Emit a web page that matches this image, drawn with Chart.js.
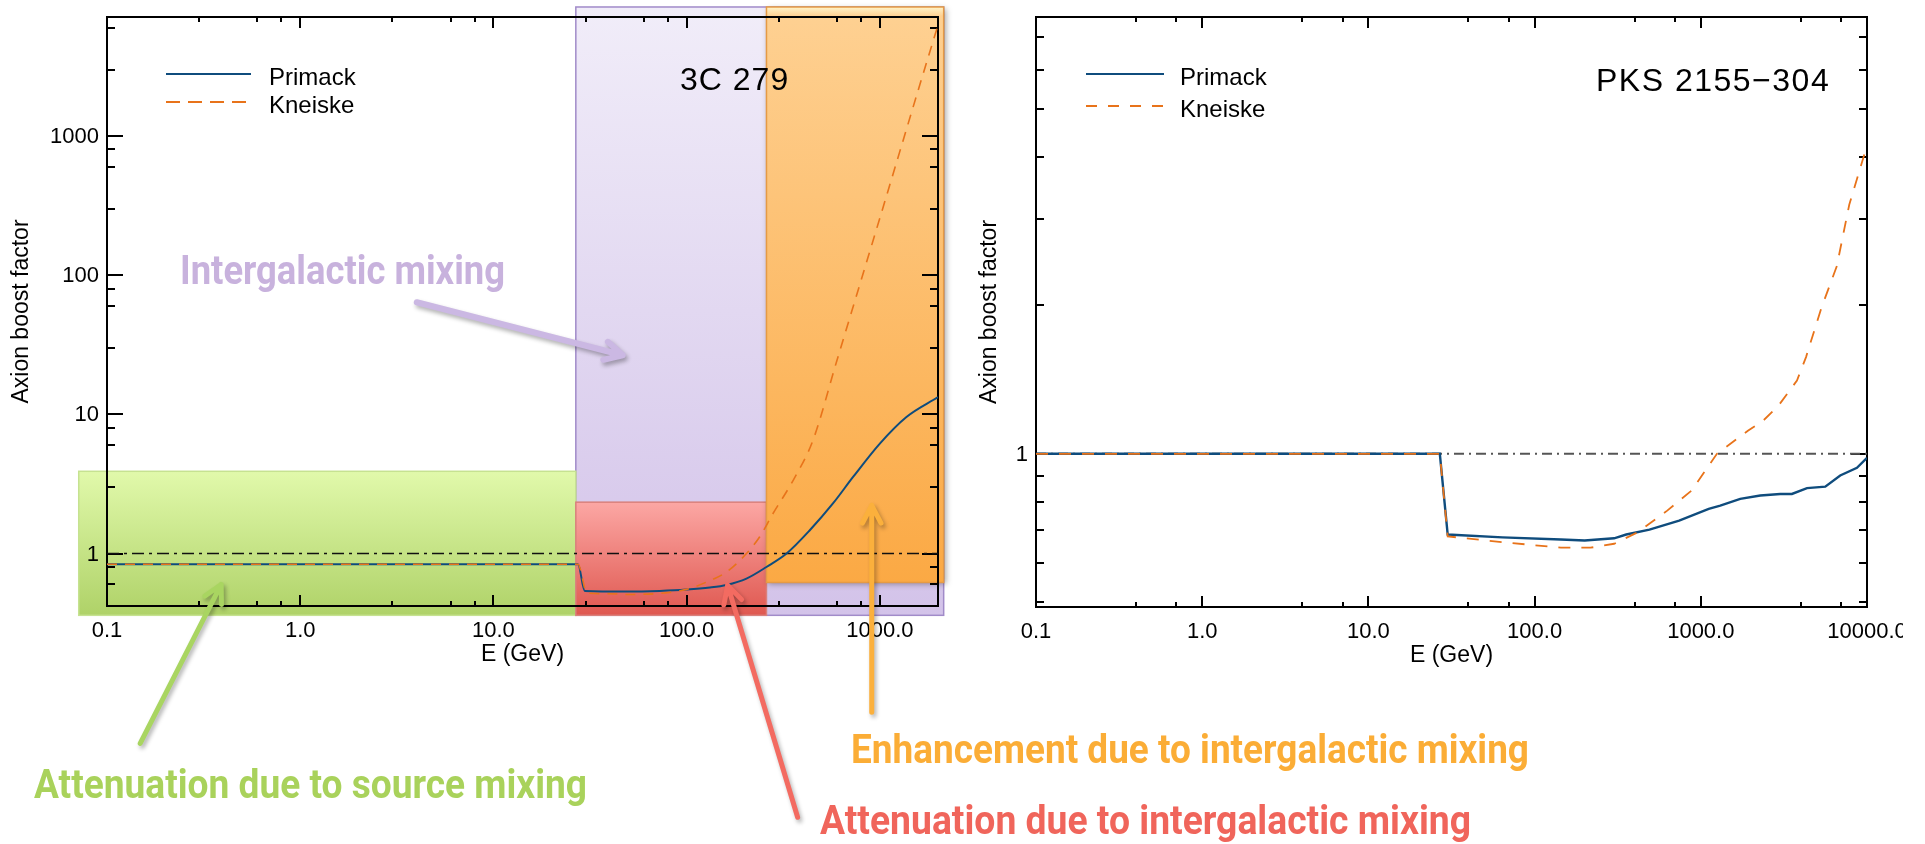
<!DOCTYPE html>
<html>
<head>
<meta charset="utf-8">
<script src="https://cdn.jsdelivr.net/npm/chart.js@4.4.1/dist/chart.umd.min.js"></script>
<style>
  html, body { margin: 0; padding: 0; background: #fff; width: 1925px; height: 844px; overflow: hidden; }
  #page { position: relative; width: 1925px; height: 844px; overflow: hidden; background: #fff; }
  #leftBox { position: absolute; left: 0; top: 0; width: 960px; height: 844px; }
  #rightBox { position: absolute; left: 960px; top: 0; width: 943px; height: 844px; }
  #notes { position: absolute; left: 0; top: 0; pointer-events: none; }
  #notes text { font-family: Roboto, "Open Sans", "DejaVu Sans", sans-serif; font-weight: 700; font-size: 40px; }
</style>
</head>
<body>
<div id="page">
  <div id="leftBox"><canvas id="leftChart"></canvas></div>
  <div id="rightBox"><canvas id="rightChart"></canvas></div>
  <svg id="notes" width="1925" height="844" xmlns="http://www.w3.org/2000/svg">
    <text x="180" y="284" textLength="325" lengthAdjust="spacingAndGlyphs" fill="#c8b2dd">Intergalactic mixing</text>
    <text x="34" y="798" textLength="553" lengthAdjust="spacingAndGlyphs" fill="#a9d25b">Attenuation due to source mixing</text>
    <text x="851" y="763" textLength="678" lengthAdjust="spacingAndGlyphs" fill="#fbad36">Enhancement due to intergalactic mixing</text>
    <text x="820" y="834" textLength="651" lengthAdjust="spacingAndGlyphs" fill="#f0655b">Attenuation due to intergalactic mixing</text>
  </svg>
</div>
<script>
// ---------- 3C 279: axion boost factor vs photon energy ----------
const leftPrimackE     = [0.1, 27.4, 29.7, 48.8, 72.6, 100, 132, 161, 204, 259, 329, 434, 572, 727, 1000, 1373, 2000];
const leftPrimackBoost = [0.838, 0.838, 0.539, 0.533, 0.539, 0.551, 0.570, 0.595, 0.661, 0.801, 1.0, 1.47, 2.29, 3.55, 6.17, 9.58, 13.3];
const leftKneiskeE     = [0.1, 27.4, 30.5, 40, 50, 73, 100, 127, 161, 204, 239, 280, 356, 451, 598, 787, 1000, 1268, 1609, 2000];
const leftKneiskeBoost = [0.838, 0.838, 0.52, 0.514, 0.508, 0.518, 0.553, 0.625, 0.738, 1.0, 1.32, 1.94, 3.36, 6.53, 24.1, 85.3, 257, 772, 2325, 6270];
const leftUnityE       = [0.1, 2000];
const leftUnityBoost   = [1, 1];

// ---------- PKS 2155-304 ----------
const rightPrimackE     = [0.1, 26.9, 30, 64, 144, 200, 301, 356, 491, 741, 1116, 1309, 1727, 2280, 3007, 3533, 4355, 5610, 6900, 8700, 10000];
const rightPrimackBoost = [1, 1, 0.686, 0.677, 0.670, 0.667, 0.674, 0.686, 0.702, 0.732, 0.773, 0.785, 0.81, 0.823, 0.829, 0.829, 0.852, 0.858, 0.904, 0.937, 0.981];
const rightKneiskeE     = [0.1, 26.9, 30, 64, 144, 217, 301, 417, 628, 879, 1250, 1930, 2377, 2938, 3790, 4297, 5313, 6577, 7820, 10000];
const rightKneiskeBoost = [1, 1, 0.68, 0.662, 0.645, 0.645, 0.657, 0.693, 0.767, 0.842, 1.0, 1.115, 1.168, 1.253, 1.408, 1.571, 1.976, 2.4, 3.2, 4.22];
const rightUnityE       = [0.1, 10000];
const rightUnityBoost   = [1, 1];

// ---------- axes ----------
const leftXRange  = [0.1, 2000];
const leftYRange  = [0.42, 7160];
const rightXRange = [0.1, 10000];
const rightYRange = [0.489, 7.69];
const leftXMajor  = [0.1, 1, 10, 100, 1000];
const leftXLabels = ['0.1', '1.0', '10.0', '100.0', '1000.0'];
const leftYMajor  = [1, 10, 100, 1000];
const leftYLabels = ['1', '10', '100', '1000'];
const rightXMajor  = [0.1, 1, 10, 100, 1000, 10000];
const rightXLabels = ['0.1', '1.0', '10.0', '100.0', '1000.0', '10000.0'];
const rightYMajor  = [1];
const rightYLabels = ['1'];

// legend entries, top to bottom
const legendModels = ['Primack', 'Kneiske'];

// ---------- shaded regimes on the 3C 279 panel (energy / boost extents) ----------
// order: intergalactic mixing, source mixing, intergalactic attenuation, intergalactic enhancement
const bandEmin = [26.7, 0.0714, 26.7, 259];
const bandEmax = [2140, 26.7, 259, 2140];
const bandBmin = [0.36, 0.36, 0.36, 0.62];
const bandBmax = [8450, 3.9, 2.34, 8450];

// points the explanatory arrows aim at (energy, boost)
const arrowE = [46.7, 0.39, 163, 908];
const arrowB = [26.6, 0.60, 0.592, 2.22];

// ---------- styles ----------
const PRIMACK_COLOR = '#0f4c7d';
const KNEISKE_COLOR = '#e8731a';
const TICK_FONT = '22px "Liberation Sans", Arial, Helvetica, sans-serif';
const TITLE_FONT = '23px "Liberation Sans", Arial, Helvetica, sans-serif';
const LEGEND_FONT = '24px "Liberation Sans", Arial, Helvetica, sans-serif';
const NAME_FONT = '32px "Liberation Sans", Arial, Helvetica, sans-serif';

const bandStyles = [
  { top: '#f1edf9', bottom: '#d3c3e9', border: '#a18bc9' },
  { top: '#e1f9ab', bottom: '#afd268', border: '#c6e291' },
  { top: '#fca7a4', bottom: '#df5850', border: '#d9817c' },
  { top: '#fed193', bottom: '#fba944', border: '#e59a45', shadow: true, bevel: true }
];
const arrowStyles = [
  { color: '#cbb8e3', width: 6, dx: -206, dy: -53 },
  { color: '#a9d561', width: 5, dx: -81, dy: 159 },
  { color: '#f36b61', width: 5, dx: 70, dy: 232 },
  { color: '#fbb03c', width: 5, dx: 0, dy: 207 }
];

function pairs(xs, ys) { return xs.map((x, i) => ({ x: x, y: ys[i] })); }

// decade ticks with 2..9 minors, major flag on labelled values
function logTicks(min, max, majors) {
  const out = [];
  for (let e = Math.floor(Math.log10(min)); e <= Math.ceil(Math.log10(max)); e++) {
    for (let m = 1; m <= 9; m++) {
      const v = +(m * Math.pow(10, e)).toPrecision(6);
      if (v < min * 0.9999 || v > max * 1.0001) continue;
      out.push({ value: v, major: majors.includes(v) });
    }
  }
  return out;
}

function logAxis(range, majors, labels) {
  return {
    type: 'logarithmic',
    display: false,
    min: range[0],
    max: range[1],
    afterBuildTicks: (scale) => { scale.ticks = logTicks(range[0], range[1], majors); },
    ticks: { callback: (v) => { const i = majors.indexOf(v); return i >= 0 ? labels[i] : ''; } }
  };
}

// boxed frame: ticks point inwards on all four sides
function framePlugin(opt) {
  return {
    id: 'frame' + opt.key,
    beforeDatasetsDraw(chart) {
      const { ctx, chartArea: a } = chart;
      const xs = chart.scales.x, ys = chart.scales.y;
      ctx.save();
      ctx.strokeStyle = '#000';
      ctx.lineWidth = 2;
      ctx.strokeRect(a.left, a.top, a.right - a.left, a.bottom - a.top);
      ctx.beginPath();
      for (const t of xs.ticks) {
        const px = Math.round(xs.getPixelForValue(t.value));
        if (px < a.left - 1 || px > a.right + 1) continue;
        const len = t.major ? 11 : 5;
        ctx.moveTo(px, a.bottom); ctx.lineTo(px, a.bottom - len);
        ctx.moveTo(px, a.top); ctx.lineTo(px, a.top + len);
      }
      for (const t of ys.ticks) {
        const py = Math.round(ys.getPixelForValue(t.value));
        if (py < a.top - 1 || py > a.bottom + 1) continue;
        const len = t.major ? 16 : 8;
        ctx.moveTo(a.left, py); ctx.lineTo(a.left + len, py);
        ctx.moveTo(a.right, py); ctx.lineTo(a.right - len, py);
      }
      ctx.stroke();

      ctx.fillStyle = '#000';
      ctx.font = TICK_FONT;
      ctx.textAlign = 'center';
      ctx.textBaseline = 'alphabetic';
      for (const t of xs.ticks) {
        if (!t.major || !t.label) continue;
        ctx.fillText(t.label, xs.getPixelForValue(t.value), a.bottom + 31);
      }
      ctx.textAlign = 'right';
      ctx.textBaseline = 'middle';
      for (const t of ys.ticks) {
        if (!t.major || !t.label) continue;
        ctx.fillText(t.label, a.left - 8, ys.getPixelForValue(t.value) + 1);
      }

      ctx.font = TITLE_FONT;
      ctx.textAlign = 'center';
      ctx.textBaseline = 'alphabetic';
      ctx.fillText('E (GeV)', (a.left + a.right) / 2, a.bottom + 55);
      ctx.save();
      ctx.translate(opt.yTitleX, (a.top + a.bottom) / 2);
      ctx.rotate(-Math.PI / 2);
      ctx.textBaseline = 'middle';
      ctx.fillText('Axion boost factor', 0, 0);
      ctx.restore();
      ctx.restore();
    },
    afterDatasetsDraw(chart) {
      const { ctx, chartArea: a } = chart;
      ctx.save();
      // legend for the two EBL models
      legendModels.forEach((name, i) => {
        const d = chart.data.datasets.find(ds => ds.label === name);
        const ly = a.top + opt.legendY[i];
        ctx.strokeStyle = d.borderColor;
        ctx.lineWidth = 2;
        ctx.setLineDash(d.legendDash || []);
        ctx.beginPath();
        ctx.moveTo(a.left + opt.legendX[0], ly);
        ctx.lineTo(a.left + opt.legendX[1], ly);
        ctx.stroke();
        ctx.setLineDash([]);
        ctx.fillStyle = '#000';
        ctx.font = LEGEND_FONT;
        ctx.textAlign = 'left';
        ctx.textBaseline = 'alphabetic';
        ctx.fillText(d.label, a.left + opt.legendX[2], ly + 11);
      });
      // source name
      ctx.font = NAME_FONT;
      ctx.fillStyle = '#000';
      ctx.textAlign = 'left';
      ctx.textBaseline = 'alphabetic';
      try { ctx.letterSpacing = opt.nameSpacing; } catch (e) {}
      ctx.fillText(opt.name, a.left + opt.nameX, a.top + opt.nameY);
      ctx.restore();
    }
  };
}

// shaded regimes drawn under the frame and the curves, arrows on top
const bandPlugin = {
  id: 'bands',
  beforeDraw(chart) {
    const { ctx } = chart;
    const xs = chart.scales.x, ys = chart.scales.y;
    bandEmin.forEach((e0, i) => {
      const st = bandStyles[i];
      const x1 = xs.getPixelForValue(e0), x2 = xs.getPixelForValue(bandEmax[i]);
      const y1 = ys.getPixelForValue(bandBmax[i]), y2 = ys.getPixelForValue(bandBmin[i]);
      ctx.save();
      const g = ctx.createLinearGradient(0, y1, 0, y2);
      g.addColorStop(0, st.top);
      g.addColorStop(1, st.bottom);
      ctx.fillStyle = g;
      if (st.shadow) {
        ctx.shadowColor = 'rgba(0,0,0,0.35)';
        ctx.shadowBlur = 6;
        ctx.shadowOffsetX = 2;
        ctx.shadowOffsetY = 2;
      }
      ctx.fillRect(x1, y1, x2 - x1, y2 - y1);
      ctx.shadowColor = 'transparent';
      if (st.bevel) {
        const b = ctx.createLinearGradient(0, y1, 0, y1 + 9);
        b.addColorStop(0, 'rgba(255,246,205,0.95)');
        b.addColorStop(1, 'rgba(255,246,205,0)');
        ctx.fillStyle = b;
        ctx.fillRect(x1, y1, x2 - x1, 9);
      }
      ctx.strokeStyle = st.border;
      ctx.lineWidth = 1.5;
      ctx.strokeRect(x1, y1, x2 - x1, y2 - y1);
      ctx.restore();
    });
  },
  afterDraw(chart) {
    const { ctx } = chart;
    const xs = chart.scales.x, ys = chart.scales.y;
    arrowE.forEach((e, i) => {
      const st = arrowStyles[i];
      const hx = xs.getPixelForValue(e), hy = ys.getPixelForValue(arrowB[i]);
      const tx = hx + st.dx, ty = hy + st.dy;
      const ang = Math.atan2(hy - ty, hx - tx);
      const head = 20, spread = Math.PI / 6.5;
      ctx.save();
      ctx.strokeStyle = st.color;
      ctx.lineWidth = st.width;
      ctx.lineCap = 'round';
      ctx.lineJoin = 'round';
      ctx.shadowColor = 'rgba(0,0,0,0.3)';
      ctx.shadowBlur = 4;
      ctx.shadowOffsetX = 2;
      ctx.shadowOffsetY = 3;
      ctx.beginPath();
      ctx.moveTo(tx, ty);
      ctx.lineTo(hx, hy);
      ctx.moveTo(hx - head * Math.cos(ang - spread), hy - head * Math.sin(ang - spread));
      ctx.lineTo(hx, hy);
      ctx.lineTo(hx - head * Math.cos(ang + spread), hy - head * Math.sin(ang + spread));
      ctx.stroke();
      ctx.restore();
    });
  }
};

function baseOptions(padding, xAxis, yAxis) {
  return {
    responsive: true,
    maintainAspectRatio: false,
    animation: false,
    devicePixelRatio: 1,
    events: [],
    layout: { padding: padding },
    plugins: { legend: { display: false }, tooltip: { enabled: false } },
    elements: { point: { radius: 0 } },
    scales: { x: xAxis, y: yAxis }
  };
}

new Chart(document.getElementById('leftChart'), {
  type: 'line',
  data: {
    datasets: [
      { label: 'Kneiske', data: pairs(leftKneiskeE, leftKneiskeBoost), borderColor: KNEISKE_COLOR,
        borderWidth: 1.6, borderDash: [10, 8], legendDash: [14, 8], cubicInterpolationMode: 'monotone', order: 0 },
      { label: 'Primack', data: pairs(leftPrimackE, leftPrimackBoost), borderColor: PRIMACK_COLOR,
        borderWidth: 2, cubicInterpolationMode: 'monotone', order: 1 },
      { label: 'unity', data: pairs(leftUnityE, leftUnityBoost), borderColor: '#111',
        borderWidth: 1.5, borderDash: [12, 5, 3, 5], order: 2 }
    ]
  },
  options: baseOptions({ left: 107, top: 17, right: 22, bottom: 238 },
    logAxis(leftXRange, leftXMajor, leftXLabels), logAxis(leftYRange, leftYMajor, leftYLabels)),
  plugins: [bandPlugin, framePlugin({
    key: 'L', yTitleX: 22, legendX: [59, 144, 162], legendY: [57, 85],
    name: '3C 279', nameX: 573, nameY: 73, nameSpacing: '1px'
  })]
});

new Chart(document.getElementById('rightChart'), {
  type: 'line',
  data: {
    datasets: [
      { label: 'Kneiske', data: pairs(rightKneiskeE, rightKneiskeBoost), borderColor: KNEISKE_COLOR,
        borderWidth: 1.8, borderDash: [12, 11], legendDash: [11, 11], order: 0 },
      { label: 'Primack', data: pairs(rightPrimackE, rightPrimackBoost), borderColor: PRIMACK_COLOR,
        borderWidth: 2.4, order: 1 },
      { label: 'unity', data: pairs(rightUnityE, rightUnityBoost), borderColor: '#555',
        borderWidth: 2, borderDash: [10, 5, 2, 5], order: 2 }
    ]
  },
  options: baseOptions({ left: 76, top: 17, right: 36, bottom: 237 },
    logAxis(rightXRange, rightXMajor, rightXLabels), logAxis(rightYRange, rightYMajor, rightYLabels)),
  plugins: [framePlugin({
    key: 'R', yTitleX: 30, legendX: [50, 128, 144], legendY: [57, 89],
    name: 'PKS 2155\u2212304', nameX: 560, nameY: 74, nameSpacing: '1.5px'
  })]
});
</script>
</body>
</html>
